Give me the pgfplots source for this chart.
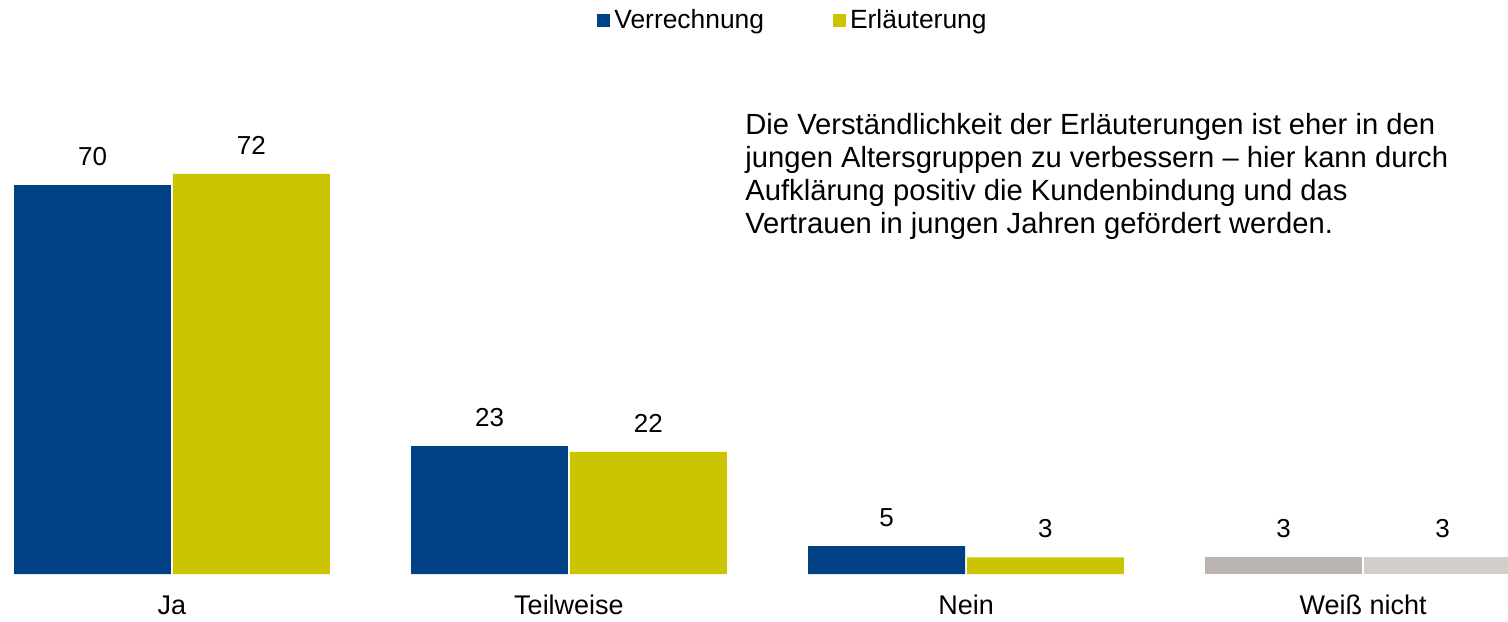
\documentclass[border=0pt]{standalone}
\usepackage{fontspec}
\setmainfont{Liberation Sans}
\usepackage{pgfplots}
\pgfplotsset{compat=1.18}
\definecolor{vblue}{RGB}{0,64,133}
\definecolor{eyellow}{RGB}{204,196,0}
\definecolor{gdark}{RGB}{188,180,176}
\definecolor{glight}{RGB}{212,206,203}
\begin{document}
\begin{tikzpicture}
\begin{axis}[at={(0,23.5pt)},anchor=south west,scale only axis,width=754pt,height=287pt,
  xmin=-0.433,xmax=3.365,ymin=0,ymax=103.3,
  axis line style={draw=none},major tick length=0pt,ytick=\empty,
  xtick={0,1,2,3},xticklabels={Ja,Teilweise,Nein,Weiß nicht},
  x tick label style={font=\fontsize{13.5}{15}\selectfont,anchor=base,yshift=-20pt},
  /pgf/number format/assume math mode=true,
  nodes near coords,
  every node near coord/.append style={font=\fontsize{13}{15}\selectfont,black,anchor=south,inner sep=0pt,yshift=9.5pt},
  bar width=0.395,
  legend columns=2,
  legend style={draw=none,fill=none,inner sep=0pt,font=\fontsize{13.2}{15}\selectfont,
    at={(rel axis cs:0.5265,0.965)},anchor=center},
  /tikz/every even column/.append style={column sep=32.5pt},
  legend image code/.code={\fill[#1] (-1.5pt,-3.25pt) rectangle (5pt,3.25pt);},
  ]
\addplot[ybar,bar shift=-0.2,fill=vblue,draw=none,
  every node near coord/.append style={xshift=-39.7pt}] coordinates {(0,70) (1,23) (2,5)};
\addplot[ybar,bar shift=0.2,fill=eyellow,draw=none,
  every node near coord/.append style={xshift=39.7pt}] coordinates {(0,72) (1,22) (2,3)};
\addplot[ybar,bar shift=-0.2,fill=gdark,draw=none,forget plot,
  every node near coord/.append style={xshift=-39.7pt}] coordinates {(3,3)};
\addplot[ybar,bar shift=0.2,fill=glight,draw=none,forget plot,
  every node near coord/.append style={xshift=39.7pt}] coordinates {(3,3)};
\legend{Verrechnung,Erläuterung}
\node[anchor=north west,align=left,inner sep=0pt,font=\fontsize{14.6}{16.5}\selectfont]
  at (rel axis cs:0.494,0.803)
  {Die Verständlichkeit der Erläuterungen ist eher in den\\
   jungen Altersgruppen zu verbessern – hier kann durch\\
   Aufklärung positiv die Kundenbindung und das\\
   Vertrauen in jungen Jahren gefördert werden.};
\end{axis}
\pgfresetboundingbox
\path[use as bounding box] (0,0) rectangle (754pt,310.5pt);
\end{tikzpicture}
\end{document}
